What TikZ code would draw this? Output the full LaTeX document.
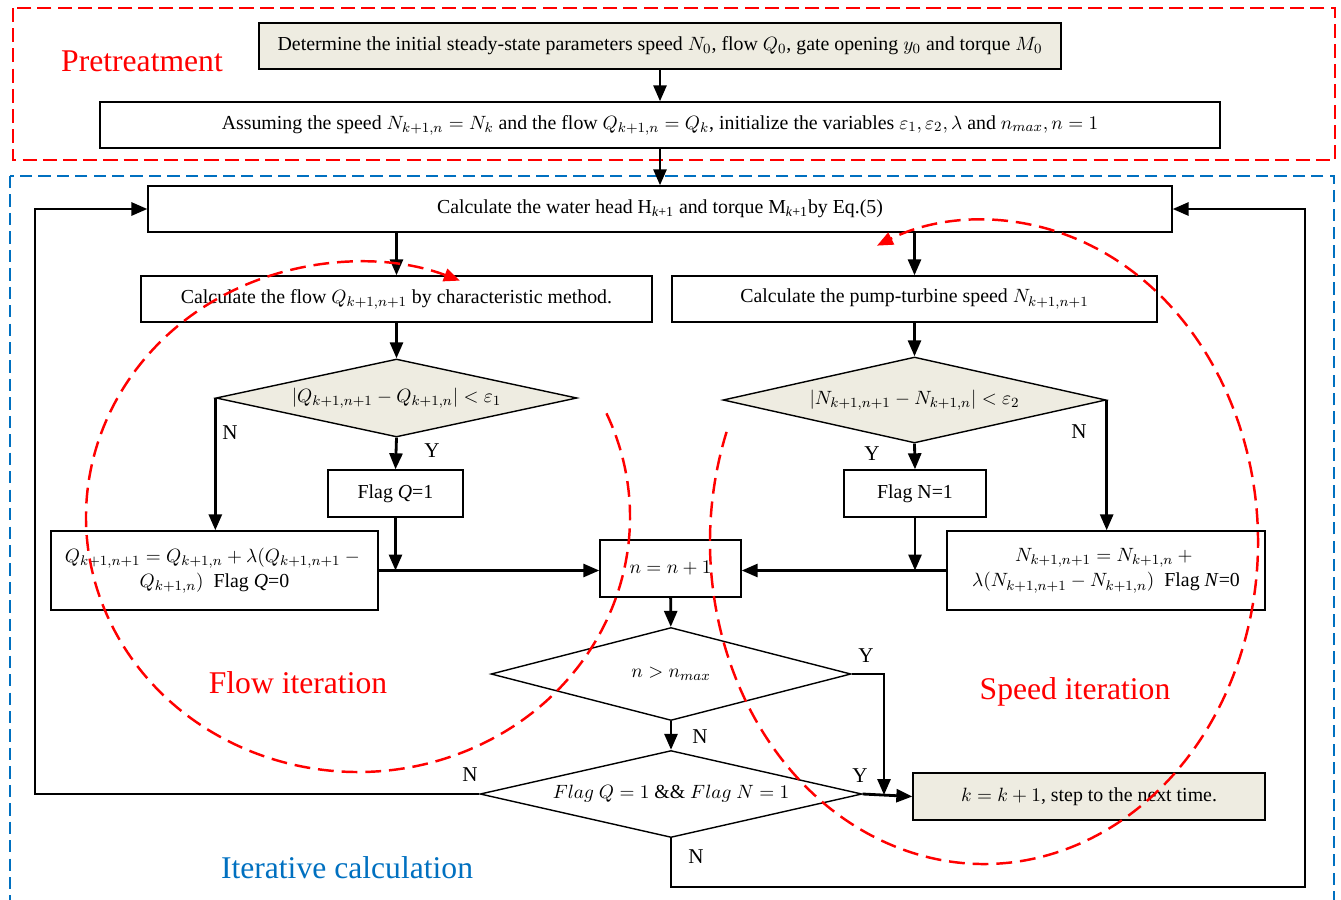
\documentclass[tikz,border=0pt]{standalone}
\usepackage{amsmath, amssymb}
\usepackage{fontspec}
\setmainfont{Liberation Serif}
\usetikzlibrary{shapes.geometric, positioning, arrows.meta}
\definecolor{beige}{RGB}{238,236,225}
\definecolor{regionblue}{RGB}{0,112,192}

\begin{document}
\begin{tikzpicture}[x=0.02cm, y=-0.02cm,
    box/.style={draw=black, line width=0.8pt, inner sep=2pt, align=center, font=\fontsize{11.3}{14.5}\selectfont},
    decision/.style={diamond, draw=black, line width=0.8pt, inner sep=0pt, aspect=4, font=\fontsize{11.3}{14.5}\selectfont},
    arr/.style={line width=1.6pt, -{Triangle[length=3.2mm, width=2.6mm]}},
    yn/.style={font=\fontsize{12}{14}\selectfont},
    region/.style={font=\fontsize{18}{20}\selectfont},
    loopline/.style={red, line width=1.4pt, dash pattern=on 9pt off 4.5pt, -{Triangle[length=3.2mm, width=2.6mm]}}]
    \useasboundingbox (0,0) rectangle (1341,899);

    % Two stage frames
    \draw[red, line width=1.6pt, dash pattern=on 8pt off 3.5pt] (13,8) rectangle (1335,160);
    \draw[regionblue, line width=1.3pt, dash pattern=on 7pt off 3.5pt] (10,176) rectangle (1334,920);

    % Pretreatment boxes
    \node[box, fill=beige, minimum width=16.04cm, minimum height=0.92cm] (init) at (660,46)
        {Determine the initial steady-state parameters speed $N_0$, flow $Q_0$, gate opening $y_0$ and torque $M_0$};
    \node[box, minimum width=22.4cm, minimum height=0.92cm] (assume) at (660,125)
        {Assuming the speed $N_{k+1,n}=N_k$ and the flow $Q_{k+1,n}=Q_k$, initialize the variables $\varepsilon_1,\varepsilon_2,\lambda$ and $n_{max},n=1$};

    % Iteration boxes
    \node[box, minimum width=20.48cm, minimum height=0.92cm] (head) at (660,209)
        {Calculate the water head H\textsubscript{\textit{k}+1} and torque M\textsubscript{\textit{k}+1}by Eq.(5)};
    \node[box, minimum width=10.22cm, minimum height=0.92cm] (flow) at (396.5,299)
        {Calculate the flow $Q_{k+1,n+1}$ by characteristic method.};
    \node[box, minimum width=9.7cm, minimum height=0.92cm] (speed) at (914.5,299)
        {Calculate the pump-turbine speed $N_{k+1,n+1}$};
    \node[decision, fill=beige, minimum width=7.22cm, minimum height=1.56cm] (dq) at (396.5,398)
        {$\left|Q_{k+1,n+1}-Q_{k+1,n}\right|<\varepsilon_1$};
    \node[decision, fill=beige, minimum width=7.66cm, minimum height=1.72cm] (dn) at (914.5,400)
        {$\left|N_{k+1,n+1}-N_{k+1,n}\right|<\varepsilon_2$};
    \node[box, minimum width=2.7cm, minimum height=0.94cm] (flagq) at (395.5,493.5) {Flag \textit{Q}=1};
    \node[box, minimum width=2.84cm, minimum height=0.94cm] (flagn) at (915,493.5) {Flag N=1};
    \node[box, minimum width=6.54cm, minimum height=1.58cm] (qupd) at (214.5,570.5)
        {$Q_{k+1,n+1}=Q_{k+1,n}+\lambda(Q_{k+1,n+1}-{}$\\$Q_{k+1,n})$~ Flag \textit{Q}=0};
    \node[box, minimum width=6.36cm, minimum height=1.58cm] (nupd) at (1106,570.5)
        {$N_{k+1,n+1}=N_{k+1,n}+{}$\\$\lambda(N_{k+1,n+1}-N_{k+1,n})$~ Flag \textit{N}=0};
    \node[box, minimum width=2.82cm, minimum height=1.14cm] (inc) at (670.5,568.5) {$n=n+1$};
    \node[decision, minimum width=7.2cm, minimum height=1.86cm] (dmax) at (671,674) {$n>n_{max}$};
    \node[decision, minimum width=7.64cm, minimum height=1.74cm] (dflag) at (671,794)
        {$Flag\ Q=1\ \&\&\ Flag\ N=1$};
    \node[box, fill=beige, minimum width=7.04cm, minimum height=0.94cm] (next) at (1089,796.5)
        {$k=k+1$, step to the next time.};

    % Loop corners
    \coordinate (loopL) at (35,500);
    \coordinate (loopR) at (1305,887);
    \coordinate (joinY) at (884,795);

    % Connectors
    \draw[arr] (init) -- (assume);
    \draw[arr] (assume) -- (head);
    \draw[arr] (head.south -| flow.north) -- (flow.north);
    \draw[arr] (head.south -| speed.north) -- (speed.north);
    \draw[arr] (flow) -- (dq);
    \draw[arr] (speed) -- (dn);
    \draw[arr] (dq.south) -- (flagq.north);
    \draw[arr] (dn.south) -- (flagn.north);
    \draw[arr] (dq.west) -- (dq.west |- qupd.north);
    \draw[arr] (dn.east) -- (dn.east |- nupd.north);
    \draw[arr] (qupd.east) -- (qupd.east -| inc.west);
    \draw[arr] (flagq.south) -- (flagq.south |- qupd.east);
    \draw[arr] (nupd.west) -- (nupd.west -| inc.east);
    \draw[arr] (flagn.south) -- (flagn.south |- nupd.west);
    \draw[arr] (inc) -- (dmax);
    \draw[arr] (dmax) -- (dflag);
    \draw[arr] (dmax.east) -| (joinY);
    \draw[arr] (dflag.east) -- (next.west);
    \draw[arr] (dflag.west) -| (loopL) |- (head.west);
    \draw[arr] (dflag.south) |- (loopR) |- (head.east);

    % Branch labels
    \node[yn] (nq) at (230,433) {N};
    \node[yn] (yq) at (432,451) {Y};
    \node[yn] (yn2) at (872,454) {Y};
    \node[yn] (nn) at (1079,432) {N};
    \node[yn] (ymax) at (866,656) {Y};
    \node[yn] (nmax) at (700,737) {N};
    \node[yn] (yflag) at (860,776) {Y};
    \node[yn] (nflagl) at (470,775) {N};
    \node[yn] (nflagb) at (696,857) {N};

    % Iteration loops
    \draw[loopline] (358,517) ++(24:5.44cm and 5.1cm)
        arc[start angle=24, end angle=-292, x radius=5.44cm, y radius=5.1cm];
    \draw[loopline] (984,542) ++(160:5.48cm and 6.44cm)
        arc[start angle=160, end angle=473, x radius=5.48cm, y radius=6.44cm];

    % Region titles
    \node[region, text=red] (pre) at (142,61) {Pretreatment};
    \node[region, text=red] (flowit) at (298,683) {Flow iteration};
    \node[region, text=red] (speedit) at (1075,692) {Speed iteration};
    \node[region, text=regionblue] (itcalc) at (347,868) {Iterative calculation};
\end{tikzpicture}
\end{document}
